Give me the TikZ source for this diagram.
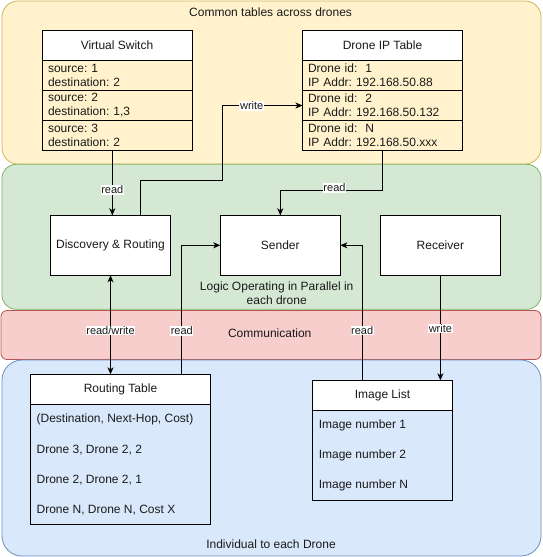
\documentclass[tikz,border=0pt]{standalone}
\usepackage{fontspec}
\setmainfont{Liberation Sans}
\usetikzlibrary{arrows.meta}
\frenchspacing
\newcommand\ftA{\fontsize{12}{14}\selectfont}
\newcommand\ftB{\fontsize{11}{13}\selectfont}
\definecolor{yfill}{HTML}{FFF2CC}\definecolor{ydraw}{HTML}{D6B656}
\definecolor{gfill}{HTML}{D5E8D4}\definecolor{gdraw}{HTML}{82B366}
\definecolor{rfill}{HTML}{F8CECC}\definecolor{rdraw}{HTML}{B85450}
\definecolor{bfill}{HTML}{DAE8FC}\definecolor{bdraw}{HTML}{6C8EBF}
\definecolor{txt}{HTML}{1A1A1A}
\begin{document}
\begin{tikzpicture}[x=1pt,y=-1pt,
  region/.style={line width=0.8pt, inner sep=0pt, outer sep=0pt},
  box/.style={draw, fill=white, line width=1pt, inner sep=0pt, outer sep=0pt, minimum width=120pt, minimum height=60pt, font=\ftA, text=txt},
  hdr/.style={draw, fill=white, line width=1pt, inner sep=0pt, outer sep=0pt, minimum height=30pt, font=\ftA, text=txt},
  rowbox/.style={draw, line width=1pt, inner ysep=0pt, outer sep=0pt, minimum height=30pt, align=left, font=\ftA, text=txt},
  item/.style={anchor=west, inner sep=0pt, font=\ftA, text=txt},
  reglabel/.style={inner sep=0pt, font=\ftA, text=txt, align=center},
  lbl/.style={fill=white, inner sep=0.6pt, font=\ftB, text=txt},
  arr/.style={-{Stealth[length=7pt,width=6pt,inset=2pt]}, line width=1pt},
  darr/.style={{Stealth[length=7pt,width=6pt,inset=2pt]}-{Stealth[length=7pt,width=6pt,inset=2pt]}, line width=1pt}
]
\useasboundingbox (0,0) rectangle (543,557);
% regions
\node[region, draw=ydraw, fill=yfill, rounded corners=16pt, minimum width=539pt, minimum height=163pt] (yreg) at (271.5,82.5) {};
\node[region, draw=gdraw, fill=gfill, rounded corners=14pt, minimum width=539pt, minimum height=145pt] (greg) at (271.5,236.8) {};
\node[region, draw=rdraw, fill=rfill, rounded corners=6pt, minimum width=540pt, minimum height=49pt] (rreg) at (271,335) {};
\node[region, draw=bdraw, fill=bfill, rounded corners=20pt, minimum width=539pt, minimum height=196pt] (breg) at (271.5,458) {};
\node[reglabel] (ylab) at (270.6,12.7) {Common tables across drones};
\node[reglabel] (glab) at (276.7,293.6) {Logic Operating in Parallel in\\each drone};
\node[reglabel] (rlab) at (269.7,333.3) {Communication};
\node[reglabel] (blab) at (271,544.7) {Individual to each Drone};
% Virtual Switch table
\node[hdr, minimum width=150pt] (vsh) at (117,45.5) {Virtual Switch};
\node[rowbox, minimum width=150pt, text width=138pt, inner xsep=6pt] (vs1) at (117,75.5) {source: 1\\destination: 2};
\node[rowbox, minimum width=150pt, text width=138pt, inner xsep=6pt] (vs2) at (117,105.5) {source: 2\\destination: 1,3};
\node[rowbox, minimum width=150pt, text width=138pt, inner xsep=6pt] (vs3) at (117,135.3) {source: 3\\destination: 2};
% Drone IP table
\node[hdr, minimum width=160pt] (diph) at (382.5,45.5) {Drone IP Table};
\node[rowbox, minimum width=160pt, text width=149pt, inner xsep=5.5pt] (dip1) at (382.5,75.5) {Drone id:\ \ 1\\IP Addr: 192.168.50.88};
\node[rowbox, minimum width=160pt, text width=149pt, inner xsep=5.5pt] (dip2) at (382.5,105.5) {Drone id:\ \ 2\\IP Addr: 192.168.50.132};
\node[rowbox, minimum width=160pt, text width=149pt, inner xsep=5.5pt] (dip3) at (382.5,135.3) {Drone id:\ \ N\\IP Addr: 192.168.50.xxx};
% logic boxes
\node[box] (dsc) at (110.5,245.3) {Discovery \& Routing};
\node[box] (snd) at (280.3,245.3) {Sender};
\node[box] (rcv) at (440.4,245.3) {Receiver};
% Routing table
\node[hdr, minimum width=179.4pt] (rth) at (120.5,389.3) {Routing Table};
\node[draw, line width=1pt, inner sep=0pt, outer sep=0pt, minimum width=179.4pt, minimum height=120pt] (rtb) at (120.5,464.3) {};
\node[item] (rt1) at (36.4,419.7) {(Destination, Next-Hop, Cost)};
\node[item] (rt2) at (36.4,449.7) {Drone 3, Drone 2, 2};
\node[item] (rt3) at (36.4,479.7) {Drone 2, Drone 2, 1};
\node[item] (rt4) at (36.4,509.7) {Drone N, Drone N, Cost X};
% Image list
\node[hdr, minimum width=139.5pt] (ilh) at (382.5,395.3) {Image List};
\node[draw, line width=1pt, inner sep=0pt, outer sep=0pt, minimum width=139.5pt, minimum height=90pt] (ilb) at (382.5,455.3) {};
\node[item] (il1) at (318.6,425.7) {Image number 1};
\node[item] (il2) at (318.6,455.7) {Image number 2};
\node[item] (il3) at (318.6,485.7) {Image number N};
% connectors
\draw[arr] (vs3.south -| 112.3,0) -- (dsc.north -| 112.3,0);
\node[lbl] (l1) at (112.3,190) {read};
\draw[arr] (dsc.north -| 140.3,0) -- (140.3,180.3) -- (222.7,180.3) |- (dip2.west);
\node[lbl] (l2) at (251.7,106) {write};
\draw[arr] (dip3.south -| 382,0) -- (382,190.7) -| (snd.north);
\node[lbl] (l3) at (334.5,188) {read};
\draw[darr] (dsc.south -| 110.5,0) -- (rth.north -| 110.5,0);
\node[lbl] (l4) at (110.5,330.3) {read/write};
\draw[arr] (rth.north -| 181.8,0) |- (snd.west);
\node[lbl] (l5) at (181.8,331) {read};
\draw[arr] (ilh.north -| 362.2,0) |- (snd.east);
\node[lbl] (l6) at (362.2,330.3) {read};
\draw[arr] (rcv.south) -- (rcv.south |- ilh.north);
\node[lbl] (l7) at (440.4,328.3) {write};
\end{tikzpicture}
\end{document}
